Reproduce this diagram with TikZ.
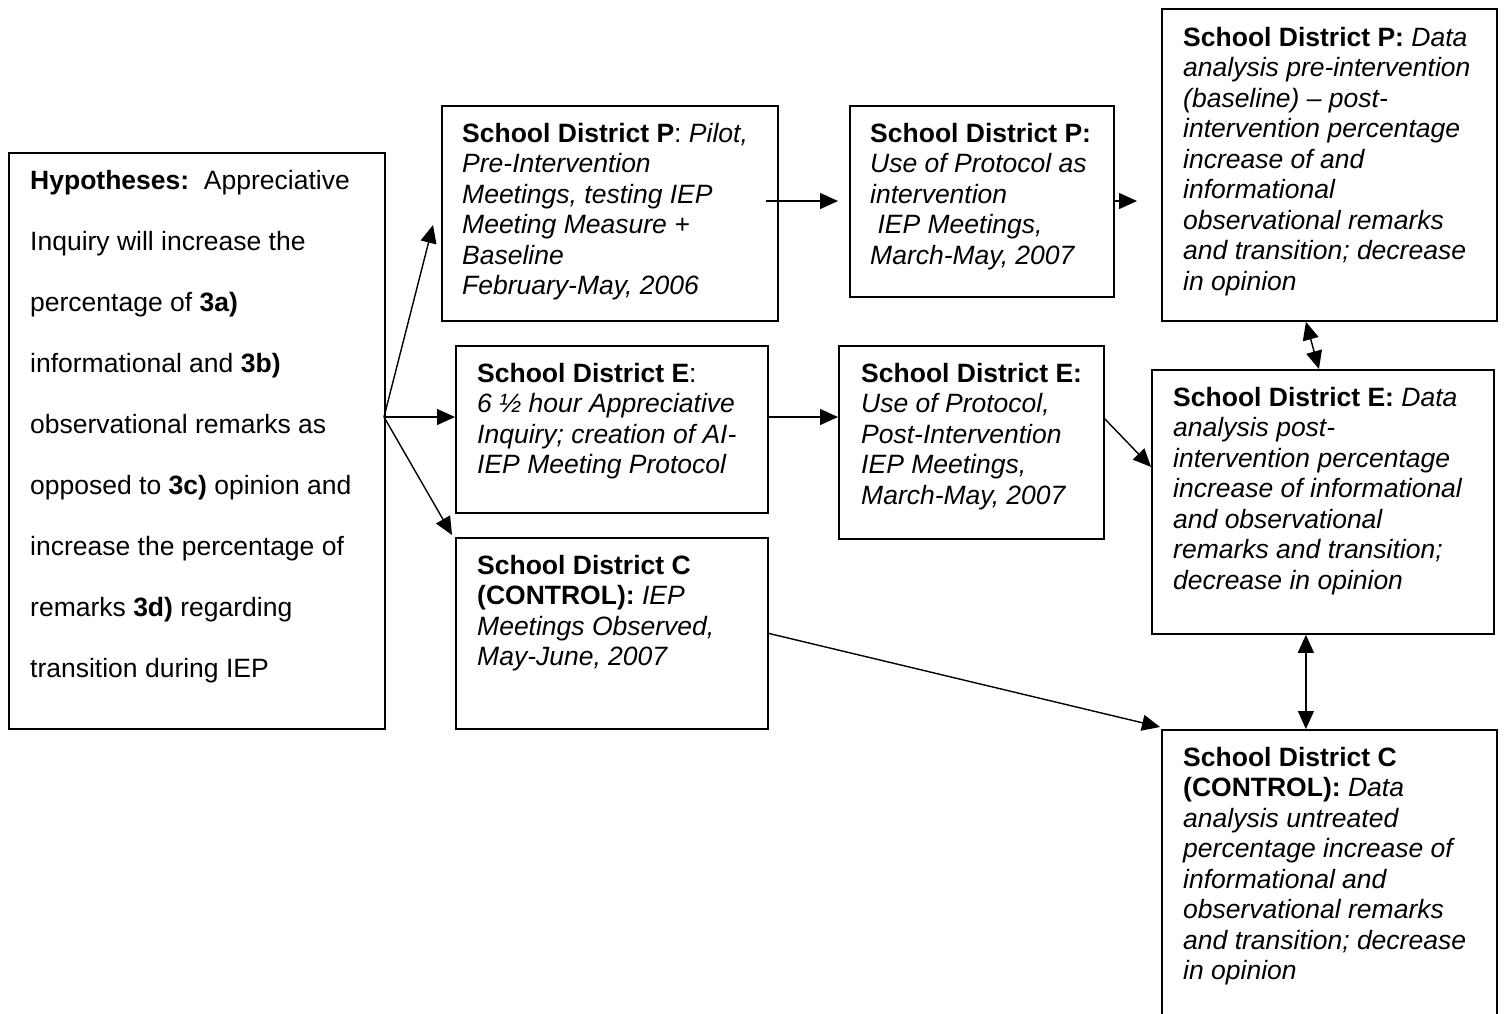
\documentclass[tikz,border=0pt]{standalone}
\usepackage{fontspec}
\setmainfont{Liberation Sans}
\usetikzlibrary{arrows.meta}
\newcommand\firstline{\rule{0pt}{21pt}}
\begin{document}
\begin{tikzpicture}[x=1pt,y=-1pt,
  box/.style={draw, line width=1.8pt, inner sep=0pt, anchor=north west},
  txt/.style={inner sep=0pt, anchor=north west, align=left,
    font=\fontsize{26.5}{30.5}\selectfont},
  wide/.style={txt, font=\fontsize{26.5}{61}\selectfont},
  arr/.style={line width=1.4pt, -{Triangle[length=18pt,width=16pt]}},
  dbl/.style={line width=1.4pt, {Triangle[length=18pt,width=16pt]}-{Triangle[length=18pt,width=16pt]}}]
\useasboundingbox (0,0) rectangle (1504,1013);

% boxes
\node[box, minimum width=376pt, minimum height=576pt] (hyp) at (8,152) {};
\node[box, minimum width=336pt, minimum height=215pt] (p1) at (441,105) {};
\node[box, minimum width=264pt, minimum height=191pt] (p2) at (849,105) {};
\node[box, minimum width=335pt, minimum height=312pt] (p3) at (1161,8) {};
\node[box, minimum width=312pt, minimum height=167pt] (e1) at (455,345) {};
\node[box, minimum width=265pt, minimum height=193pt] (e2) at (838,345) {};
\node[box, minimum width=342pt, minimum height=264pt] (e3) at (1151,369) {};
\node[box, minimum width=312pt, minimum height=191pt] (c1) at (455,537) {};
\node[box, minimum width=335pt, minimum height=310pt] (c3) at (1161,729) {};

% texts
\node[wide] (hypt) at (30,168) {\firstline\textbf{Hypotheses:}\hspace{14.7pt}Appreciative\\
Inquiry will increase the\\
percentage of \textbf{3a)}\\
informational and \textbf{3b)}\\
observational remarks as\\
opposed to \textbf{3c)} opinion and\\
increase the percentage of\\
remarks \textbf{3d)} regarding\\
transition during IEP};

\node[txt] (p1t) at (462,121) {\firstline\textbf{School District P}: \textit{Pilot,}\\
\textit{Pre-Intervention}\\
\textit{Meetings, testing IEP}\\
\textit{Meeting Measure +}\\
\textit{Baseline}\\
\textit{February-May, 2006}};

\node[txt] (p2t) at (870,121) {\firstline\textbf{School District P:}\\
\textit{Use of Protocol as}\\
\textit{intervention}\\
\hspace*{7.4pt}\textit{IEP Meetings,}\\
\textit{March-May, 2007}};

\node[txt] (p3t) at (1183,25) {\firstline\textbf{School District P:} \textit{Data}\\
\textit{analysis pre-intervention}\\
\textit{(baseline) – post-}\\
\textit{intervention percentage}\\
\textit{increase of and}\\
\textit{informational}\\
\textit{observational remarks}\\
\textit{and transition; decrease}\\
\textit{in opinion}};

\node[txt] (e1t) at (477,361) {\firstline\textbf{School District E}:\\
\textit{6 ½ hour Appreciative}\\
\textit{Inquiry; creation of AI-}\\
\textit{IEP Meeting Protocol}};

\node[txt] (e2t) at (861,361) {\firstline\textbf{School District E:}\\
\textit{Use of Protocol,}\\
\textit{Post-Intervention}\\
\textit{IEP Meetings,}\\
\textit{March-May, 2007}};

\node[txt] (e3t) at (1173,385) {\firstline\textbf{School District E:} \textit{Data}\\
\textit{analysis post-}\\
\textit{intervention percentage}\\
\textit{increase of informational}\\
\textit{and observational}\\
\textit{remarks and transition;}\\
\textit{decrease in opinion}};

\node[txt] (c1t) at (477,553) {\firstline\textbf{School District C}\\
\textbf{(CONTROL):} \textit{IEP}\\
\textit{Meetings Observed,}\\
\textit{May-June, 2007}};

\node[txt] (c3t) at (1183,745) {\firstline\textbf{School District C}\\
\textbf{(CONTROL):} \textit{Data}\\
\textit{analysis untreated}\\
\textit{percentage increase of}\\
\textit{informational and}\\
\textit{observational remarks}\\
\textit{and transition; decrease}\\
\textit{in opinion}};

% connector ends
\coordinate (fan) at (384,417);
\coordinate (p1in) at (433,225);
\coordinate (pa) at (766,201);

% connectors
\draw[arr] (fan) -- (p1in);
\draw[arr] (fan) -- (fan -| e1.west);
\draw[arr] (fan) -- ([shift={(-3pt,2pt)}]c1.north west);
\draw[arr] (pa) -- ([xshift=-11pt]pa -| p2.west);
\draw[arr] (pa -| p2.east) -- ([xshift=-24pt]pa -| p3.west);
\draw[arr] (fan -| e1.east) -- (fan -| e2.west);
\draw[arr] ([yshift=23.5pt]e2.east) -- ([yshift=35pt]e3.west);
\draw[dbl] ([xshift=-23.5pt]p3.south) -- ([xshift=-4pt]e3.north);
\draw[dbl] ([xshift=-17pt]e3.south) coordinate (ec) -- (ec |- c3.north);
\draw[arr] (c1.east) -- ([shift={(-1pt,2pt)}]c3.north west);
\end{tikzpicture}
\end{document}
